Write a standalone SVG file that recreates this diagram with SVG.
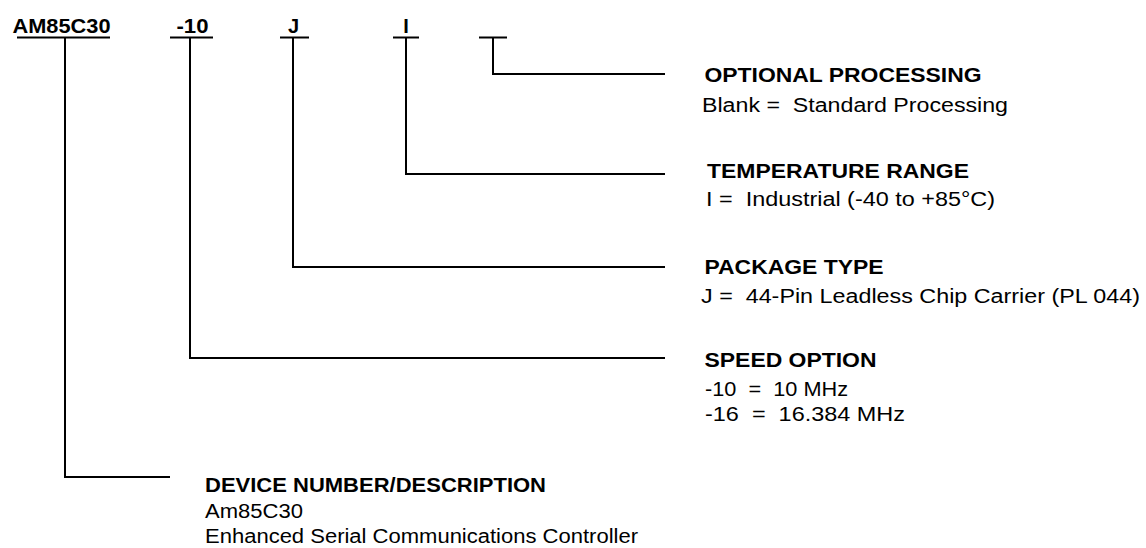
<svg xmlns="http://www.w3.org/2000/svg" width="1146" height="548" viewBox="0 0 1146 548">
<style>
.b{font-family:"Liberation Sans",Arial,sans-serif;font-weight:bold;font-size:20px;fill:#000}
.r{font-family:"Liberation Sans",Arial,sans-serif;font-size:20px;fill:#000}
.c{fill:none;stroke:#000;stroke-width:2}
</style>
<rect width="1146" height="548" fill="#fff"/>
<g id="connectors">
<line class="c" x1="17" y1="37.5" x2="110" y2="37.5"/>
<line class="c" x1="170" y1="37.5" x2="213" y2="37.5"/>
<line class="c" x1="280" y1="37.5" x2="309" y2="37.5"/>
<line class="c" x1="393" y1="37.5" x2="419" y2="37.5"/>
<line class="c" x1="479" y1="37.5" x2="507" y2="37.5"/>
<polyline class="c" points="65,37.5 65,477 170,477"/>
<polyline class="c" points="190,37.5 190,358 665,358"/>
<polyline class="c" points="293,37.5 293,267 665,267"/>
<polyline class="c" points="406,37.5 406,174 665,174"/>
<polyline class="c" points="493,37.5 493,74 665,74"/>
</g>
<g id="label-device"><text class="b" x="12.5" y="33" textLength="98" lengthAdjust="spacingAndGlyphs">AM85C30</text></g>
<g id="label-speed"><text class="b" x="176.5" y="33" textLength="32" lengthAdjust="spacingAndGlyphs">-10</text></g>
<g id="label-package"><text class="b" x="293.5" y="33" text-anchor="middle">J</text></g>
<g id="label-temp"><text class="b" x="406" y="33" text-anchor="middle">I</text></g>
<g id="desc-optional">
<text class="b" x="704.5" y="81.5" textLength="277" lengthAdjust="spacingAndGlyphs">OPTIONAL PROCESSING</text>
<text class="r" x="702" y="112" xml:space="preserve" textLength="306" lengthAdjust="spacingAndGlyphs">Blank =  Standard Processing</text>
</g>
<g id="desc-temp">
<text class="b" x="707" y="178" textLength="262" lengthAdjust="spacingAndGlyphs">TEMPERATURE RANGE</text>
<text class="r" x="706" y="206" xml:space="preserve" textLength="289" lengthAdjust="spacingAndGlyphs">I =  Industrial (-40 to +85°C)</text>
</g>
<g id="desc-package">
<text class="b" x="704.5" y="274" textLength="179" lengthAdjust="spacingAndGlyphs">PACKAGE TYPE</text>
<text class="r" x="701" y="303" xml:space="preserve" textLength="439" lengthAdjust="spacingAndGlyphs">J =  44-Pin Leadless Chip Carrier (PL 044)</text>
</g>
<g id="desc-speed">
<text class="b" x="704.5" y="367" textLength="172" lengthAdjust="spacingAndGlyphs">SPEED OPTION</text>
<text class="r" x="705" y="396" xml:space="preserve" textLength="143" lengthAdjust="spacingAndGlyphs">-10  =  10 MHz</text>
<text class="r" x="705" y="421" xml:space="preserve" textLength="200" lengthAdjust="spacingAndGlyphs">-16  =  16.384 MHz</text>
</g>
<g id="desc-device">
<text class="b" x="205" y="491.5" textLength="341" lengthAdjust="spacingAndGlyphs">DEVICE NUMBER/DESCRIPTION</text>
<text class="r" x="205" y="518" textLength="98" lengthAdjust="spacingAndGlyphs">Am85C30</text>
<text class="r" x="205" y="543" textLength="433" lengthAdjust="spacingAndGlyphs">Enhanced Serial Communications Controller</text>
</g>
</svg>
